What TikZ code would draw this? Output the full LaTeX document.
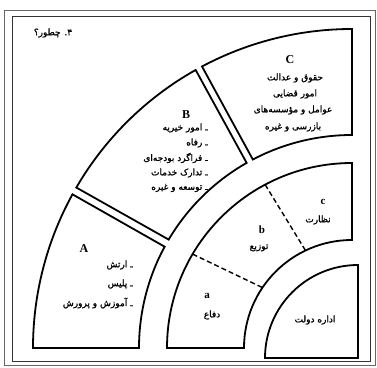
\documentclass[tikz,border=0pt]{standalone}
\usepackage{fontspec}
\TeXXeTstate=1
\newfontfamily\arabicfont[Script=Arabic, FakeBold=1.2]{DejaVu Sans}
\newfontfamily\latinfont{Liberation Serif}
\tikzset{
  piece/.style={draw=black, line width=1.8pt, line join=miter},
  divider/.style={draw=black, line width=1.4pt, dash pattern=on 5pt off 3pt},
  outerframe/.style={draw=black!60, line width=0.9pt},
  innerframe/.style={draw=black!80, line width=0.8pt},
  fa/.style={font=\arabicfont\fontsize{9}{10}\selectfont, inner sep=0pt},
  lat/.style={font=\latinfont\bfseries\fontsize{12}{13}\selectfont, inner sep=0pt},
  latsmall/.style={font=\latinfont\bfseries\fontsize{11}{12}\selectfont, inner sep=0pt}
}
\begin{document}
\begin{tikzpicture}[x=1pt,y=1pt]
\useasboundingbox (0,0) rectangle (377,367);
% frame
\draw[outerframe] (4.5,1.5) rectangle (375.5,357);
\draw[innerframe] (12,6) rectangle (370.5,351);
% outer ring A, B, C
\begin{scope}[shift={(352,19)}]
  \draw[piece] (180:319) arc[start angle=180,end angle=151.2,radius=319]
    -- (151.6:213) arc[start angle=151.6,end angle=180,radius=213] -- cycle;
  \draw[piece] (149.8:319) arc[start angle=149.8,end angle=119.35,radius=319]
    -- (119.65:213) arc[start angle=119.65,end angle=149.4,radius=213] -- cycle;
  \draw[piece] (118.05:319) arc[start angle=118.05,end angle=90,radius=319]
    -- (90:213) arc[start angle=90,end angle=117.75,radius=213] -- cycle;
  % middle ring a, b, c
  \draw[piece] (180:185) arc[start angle=180,end angle=90,radius=185]
    -- (90:108) arc[start angle=90,end angle=180,radius=108] -- cycle;
  \coordinate (ab1) at (149.5:185);
  \coordinate (ab2) at (146:108);
  \coordinate (bc1) at (118:185);
  \coordinate (bc2) at (115.5:108);
  \draw[divider] (ab1) -- (ab2);
  \draw[divider] (bc1) -- (bc2);
\end{scope}
% inner quarter
\draw[piece] (265,9) arc[start angle=180,end angle=90,radius=93] -- (358,9) -- cycle;
% texts
\node[fa] (title) at (53,334) {\beginR ۴. چطور؟\endR};
\node[lat] (labC) at (290,307) {C};
\node[fa] (c1) at (295,289) {\beginR حقوق و عدالت\endR};
\node[fa] (c2) at (295,273) {\beginR امور قضایی\endR};
\node[fa] (c3) at (293,257) {\beginR عوامل و مؤسسه‌های\endR};
\node[fa] (c4) at (293,240) {\beginR بازرسی و غیره\endR};
\node[lat] (labB) at (186,252) {B};
\node[fa, anchor=east] (b1) at (208,239) {\beginR ـ امور خیریه\endR};
\node[fa, anchor=east] (b2) at (208,224) {\beginR ـ رفاه\endR};
\node[fa, anchor=east] (b3) at (208,209) {\beginR ـ فراگرد بودجه‌ای\endR};
\node[fa, anchor=east] (b4) at (208,194) {\beginR ـ تدارک خدمات\endR};
\node[fa, anchor=east] (b5) at (208,179) {\beginR ـ توسعه و غیره\endR};
\node[lat] (labA) at (84,118) {A};
\node[fa, anchor=east] (a1) at (133,102) {\beginR ـ ارتش\endR};
\node[fa, anchor=east] (a2) at (133,83) {\beginR ـ پلیس\endR};
\node[fa, anchor=east] (a3) at (133,64) {\beginR ـ آموزش و پرورش\endR};
\node[latsmall] (laba) at (207,71) {a};
\node[fa] (defa) at (212,52) {\beginR دفاع\endR};
\node[latsmall] (labb) at (262,137) {b};
\node[fa] (tozi) at (259,119) {\beginR توزیع\endR};
\node[latsmall] (labc) at (323,165) {c};
\node[fa] (nezarat) at (318,147) {\beginR نظارت\endR};
\node[fa] (edare) at (315,47) {\beginR اداره دولت\endR};
\end{tikzpicture}
\end{document}
